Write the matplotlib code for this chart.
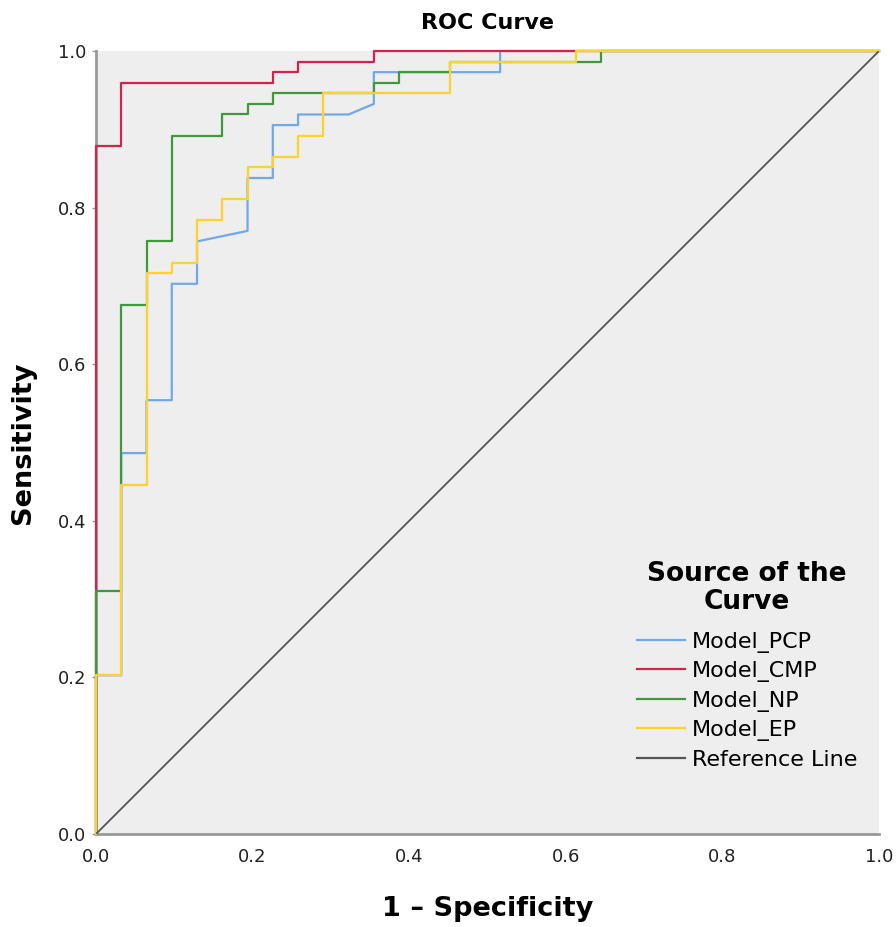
import numpy as np
import matplotlib
matplotlib.use('Agg')
import matplotlib.pyplot as plt

# counts of negatives / positives
N_NEG = 31
N_POS = 74

# ROC vertices as (false positive count, true positive count)
pcp_fp = [0, 0, 1, 1, 2, 2, 3, 3, 4, 4, 6, 6, 7, 7, 8, 8, 10, 11, 11, 16, 16, 31]
pcp_tp = [0, 15, 15, 36, 36, 41, 41, 52, 52, 56, 57, 62, 62, 67, 67, 68, 68, 69, 72, 72, 74, 74]

cmp_fp = [0, 0, 1, 1, 7, 7, 8, 8, 11, 11, 31]
cmp_tp = [0, 65, 65, 71, 71, 72, 72, 73, 73, 74, 74]

np_fp = [0, 0, 1, 1, 2, 2, 3, 3, 5, 5, 6, 6, 7, 7, 11, 11, 12, 12, 14, 14, 20, 20, 31]
np_tp = [0, 23, 23, 50, 50, 56, 56, 66, 66, 68, 68, 69, 69, 70, 70, 71, 71, 72, 72, 73, 73, 74, 74]

ep_fp = [0, 0, 1, 1, 2, 2, 3, 3, 4, 4, 5, 5, 6, 6, 7, 7, 8, 8, 9, 9, 14, 14, 19, 19, 31]
ep_tp = [0, 15, 15, 33, 33, 53, 53, 54, 54, 58, 58, 60, 60, 63, 63, 64, 64, 66, 66, 70, 70, 73, 73, 74, 74]

labels = ['Model_PCP', 'Model_CMP', 'Model_NP', 'Model_EP']
colors = ['#72a8ea', '#d6214c', '#3f983a', '#fdd22a']
ticks = [0.0, 0.2, 0.4, 0.6, 0.8, 1.0]

fig = plt.figure(figsize=(8.96, 9.27), dpi=100)
ax = fig.add_axes([96/896, 1 - 834/927, 783/896, 783/927])
ax.set_facecolor('#eeeeee')

curves = [(pcp_fp, pcp_tp), (cmp_fp, cmp_tp), (np_fp, np_tp), (ep_fp, ep_tp)]
for (fp, tp), lab, col in zip(curves, labels, colors):
    x = np.array(fp) / N_NEG
    y = np.array(tp) / N_POS
    ax.plot(x, y, color=col, lw=1.6, label=lab, zorder=3, clip_on=False)

ax.plot([0, 1], [0, 1], color='#555555', lw=1.3, label='Reference Line', zorder=3)

ax.set_xlim(0, 1)
ax.set_ylim(0, 1)
ax.set_xticks(ticks)
ax.set_yticks(ticks)
ax.set_xticklabels(['%.1f' % t for t in ticks])
ax.set_yticklabels(['%.1f' % t for t in ticks])
ax.tick_params(axis='x', length=0, pad=10, labelsize=13, colors='#222222')
ax.tick_params(axis='y', length=3, width=1, pad=4, labelsize=13,
               colors='#999999', labelcolor='#222222')

for s in ['top', 'right']:
    ax.spines[s].set_visible(False)
for s in ['left', 'bottom']:
    ax.spines[s].set_color('#999999')
    ax.spines[s].set_linewidth(2)
    ax.spines[s].set_zorder(1)

ax.set_xlabel('1 \u2013 Specificity', fontsize=19.5, fontweight='bold', labelpad=22)
ax.set_ylabel('Sensitivity', fontsize=19.5, fontweight='bold', labelpad=16)
ax.set_title('ROC Curve', fontsize=16, fontweight='bold', pad=16)

leg = ax.legend(loc='upper left', bbox_to_anchor=(626/896, 1 - 550/927),
                bbox_transform=fig.transFigure, frameon=False,
                fontsize=16, handlelength=2.15, handletextpad=0.3,
                labelspacing=0.38, borderpad=0,
                title='Source of the\nCurve',
                title_fontproperties={'size': 19, 'weight': 'bold'})
leg.get_title().set_multialignment('center')
leg.get_title().set_linespacing(1.1)
leg._legend_box.sep = 12
for line in leg.get_lines():
    line.set_linewidth(1.6)

fig.savefig('out.png', dpi=100)
